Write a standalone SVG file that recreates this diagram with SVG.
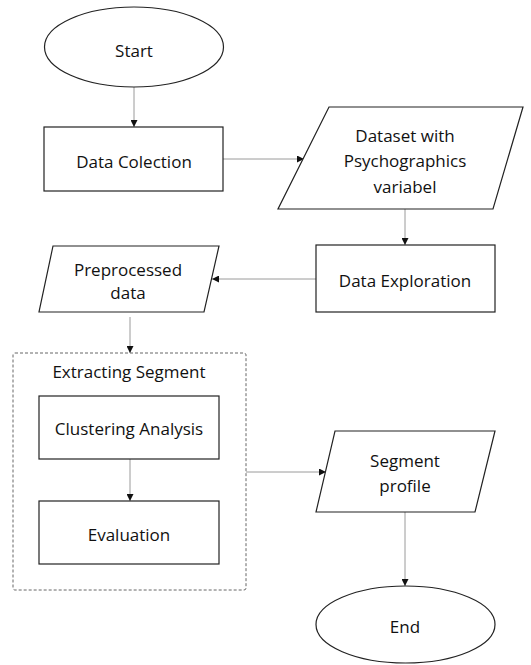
<svg xmlns="http://www.w3.org/2000/svg" width="531" height="665" viewBox="0 0 531 665">
<style>
.s{fill:#fff;stroke:#222;stroke-width:1.2}
.t{font-family:"Open Sans","Liberation Sans",sans-serif;font-size:17px;fill:#111;text-anchor:middle}
.c{fill:none;stroke:#9a9a9a;stroke-width:1}
</style>
<defs>
<marker id="a" viewBox="0 0 10 10" refX="10" refY="5" markerWidth="7" markerHeight="7" orient="auto" markerUnits="userSpaceOnUse">
<path d="M0,0 L10,5 L0,10 z" fill="#111"/>
</marker>
</defs>
<rect width="531" height="665" fill="#fff"/>
<g id="connectors">
<line class="c" x1="134" y1="87" x2="134" y2="127" marker-end="url(#a)"/>
<line class="c" x1="223" y1="159" x2="304" y2="159" marker-end="url(#a)"/>
<line class="c" x1="405" y1="209" x2="405" y2="245" marker-end="url(#a)"/>
<line class="c" x1="316" y1="279" x2="212" y2="279" marker-end="url(#a)"/>
<line class="c" x1="130" y1="317" x2="130" y2="353" marker-end="url(#a)"/>
<line class="c" x1="130" y1="459" x2="130" y2="501" marker-end="url(#a)"/>
<line class="c" x1="246" y1="472" x2="326" y2="472" marker-end="url(#a)"/>
<line class="c" x1="405" y1="512" x2="405" y2="586" marker-end="url(#a)"/>
</g>
<g id="start">
<ellipse class="s" cx="134" cy="47" rx="89.5" ry="40"/>
<text class="t" x="134" y="57">Start</text>
</g>
<g id="data-colection">
<rect class="s" x="44" y="127" width="179" height="64"/>
<text class="t" x="134" y="168">Data Colection</text>
</g>
<g id="dataset">
<polygon class="s" points="329,107 523,107 493,209 278,209"/>
<text class="t" x="405" y="142">Dataset with</text>
<text class="t" x="405" y="167">Psychographics</text>
<text class="t" x="405" y="193">variabel</text>
</g>
<g id="data-exploration">
<rect class="s" x="316" y="245" width="179" height="67"/>
<text class="t" x="405" y="287">Data Exploration</text>
</g>
<g id="preprocessed">
<polygon class="s" points="53,246 219,246 204,312 39,312"/>
<text class="t" x="128" y="276">Preprocessed</text>
<text class="t" x="128" y="299">data</text>
</g>
<g id="extracting-segment">
<rect x="13" y="353" width="233" height="237" rx="2" fill="none" stroke="#666" stroke-width="1" stroke-dasharray="3,2"/>
<text class="t" x="129" y="378">Extracting Segment</text>
</g>
<g id="clustering">
<rect class="s" x="39" y="396" width="180" height="63"/>
<text class="t" x="129" y="435">Clustering Analysis</text>
</g>
<g id="evaluation">
<rect class="s" x="39" y="501" width="180" height="63"/>
<text class="t" x="129" y="541">Evaluation</text>
</g>
<g id="segment-profile">
<polygon class="s" points="335,431 495,431 475,512 316,512"/>
<text class="t" x="405" y="467">Segment</text>
<text class="t" x="405" y="492">profile</text>
</g>
<g id="end">
<ellipse class="s" cx="405.5" cy="624.5" rx="89.5" ry="38.5"/>
<text class="t" x="405" y="633">End</text>
</g>
</svg>
